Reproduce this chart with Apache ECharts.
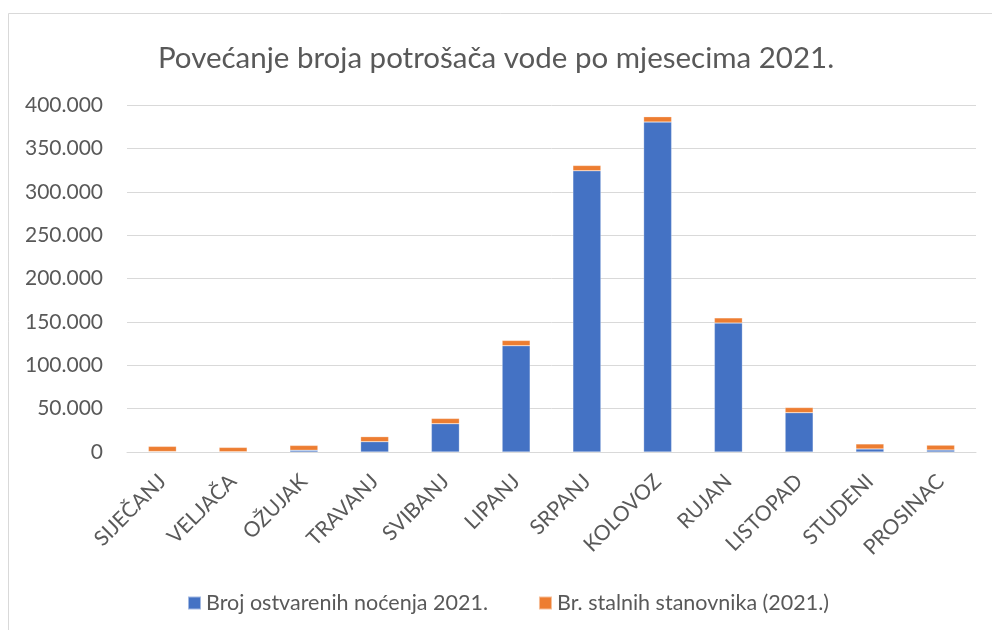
<!DOCTYPE html>
<html><head><meta charset="utf-8">
<script src="https://cdn.jsdelivr.net/npm/echarts@6/dist/echarts.min.js"></script>
<style>html,body{margin:0;padding:0;background:#fff}#c{width:992px;height:630px}</style>
</head><body><div id="c"></div>
<script>
const categories = ['SIJEČANJ','VELJAČA','OŽUJAK','TRAVANJ','SVIBANJ','LIPANJ','SRPANJ','KOLOVOZ','RUJAN','LISTOPAD','STUDENI','PROSINAC'];
const nocenja = [500, 300, 2000, 11900, 32600, 122500, 324200, 380400, 148700, 45300, 3500, 2300];
const stanovnici = [6000, 5000, 5600, 5800, 6100, 6100, 6100, 6100, 5900, 6000, 5800, 5600];
const seriesNames = ['Broj ostvarenih noćenja 2021.', 'Br. stalnih stanovnika (2021.)'];
const titleText = 'Povećanje broja potrošača vode po mjesecima 2021.';

const font = 'Lato, sans-serif';
const chart = echarts.init(document.getElementById('c'));
chart.setOption({
  animation: false,
  backgroundColor: '#fff',
  title: { text: titleText, left: 'center', top: 38, textStyle: { fontFamily: font, fontSize: 29.5, fontWeight: 'normal', color: '#595959' } },
  legend: { left: 182, top: 587, itemWidth: 13, itemHeight: 13, itemGap: 50, icon: 'rect',
    textStyle: { fontFamily: font, fontSize: 21.5, color: '#595959' }, data: seriesNames },
  grid: { left: 127, right: 16, top: 105, bottom: 178, containLabel: false },
  xAxis: { type: 'category', data: categories,
    axisLine: { lineStyle: { color: '#d9d9d9', width: 1 } }, axisTick: { show: false },
    axisLabel: { rotate: 45, interval: 0, margin: 26, fontFamily: font, fontSize: 21, color: '#595959' } },
  yAxis: { type: 'value', min: 0, max: 400000, interval: 50000,
    axisLine: { show: false }, axisTick: { show: false },
    splitLine: { lineStyle: { color: '#d9d9d9', width: 1 } },
    axisLabel: { margin: 24, fontFamily: font, fontSize: 21, color: '#595959',
      formatter: v => v === 0 ? '0' : v.toLocaleString('de-DE') } },
  series: [
    { name: seriesNames[0], type: 'bar', stack: 't', data: nocenja, barWidth: 28,
      itemStyle: { color: '#4472C4', borderColor: 'rgba(255,255,255,0.5)', borderWidth: 0.5 } },
    { name: seriesNames[1], type: 'bar', stack: 't', data: stanovnici, barWidth: 28,
      itemStyle: { color: '#ED7D31', borderColor: 'rgba(255,255,255,0.5)', borderWidth: 0.5 } }
  ],
  graphic: [
    { type: 'polyline', silent: true, shape: { points: [[8.5, 630], [8.5, 13.5], [992, 13.5]] },
      style: { stroke: '#d9d9d9', fill: null, lineWidth: 1 } }
  ]
});
</script></body></html>
